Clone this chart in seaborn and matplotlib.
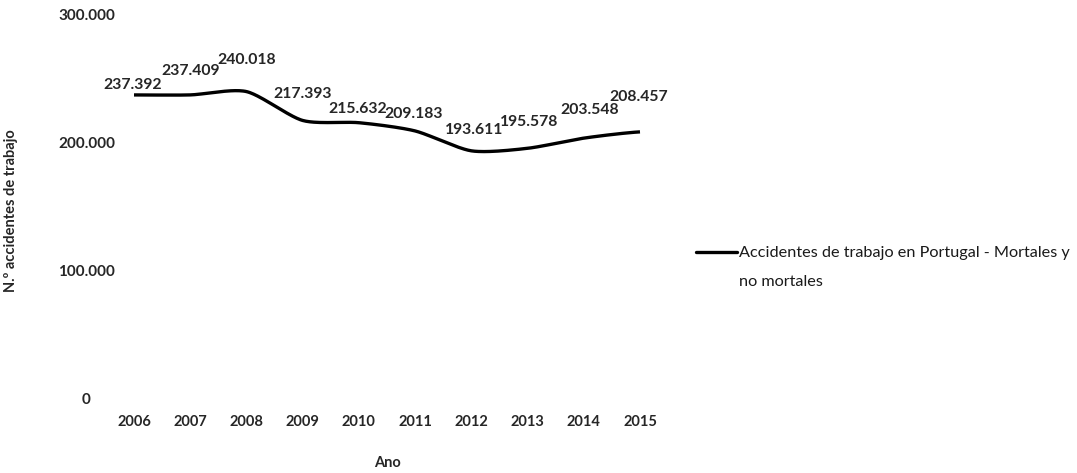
import numpy as np
import pandas as pd
import seaborn as sns
import matplotlib
matplotlib.use("Agg")
import matplotlib.pyplot as plt
from matplotlib.lines import Line2D

years = [2006, 2007, 2008, 2009, 2010, 2011, 2012, 2013, 2014, 2015]
accidents = [237392, 237409, 240018, 217393, 215632, 209183, 193611, 195578, 203548, 208457]
y_ticks = [0, 100000, 200000, 300000]
y_tick_labels = ["0", "100.000", "200.000", "300.000"]
series_name_lines = ["Accidentes de trabajo en Portugal - Mortales y", "no mortales"]

# label offsets in points (dx, dy) from each data point
label_offsets = [(-1, 7), (0, 17), (0, 23), (0, 19), (-1, 10), (-1, 12),
                 (2, 15), (1, 19), (4, 20), (-1, 25)]

sns.set_theme(style="white")
plt.rcParams["font.family"] = ["Lato", "DejaVu Sans"]


def smooth_curve(x, y, steps=40):
    """Catmull-Rom style spline through the points for a smoothed line."""
    x = np.asarray(x, float)
    y = np.asarray(y, float)
    px = np.concatenate([[2 * x[0] - x[1]], x, [2 * x[-1] - x[-2]]])
    py = np.concatenate([[y[0]], y, [y[-1]]])
    xs, ys = [], []
    t = np.linspace(0, 1, steps, endpoint=False)
    for i in range(1, len(px) - 2):
        p0, p1, p2, p3 = (np.array([px[j], py[j]]) for j in range(i - 1, i + 3))
        m1 = (p2 - p0) / 2
        m2 = (p3 - p1) / 2
        h00 = 2 * t**3 - 3 * t**2 + 1
        h10 = t**3 - 2 * t**2 + t
        h01 = -2 * t**3 + 3 * t**2
        h11 = t**3 - t**2
        pts = (h00[:, None] * p1 + h10[:, None] * m1 * 0.75 +
               h01[:, None] * p2 + h11[:, None] * m2 * 0.75)
        xs.extend(pts[:, 0])
        ys.extend(pts[:, 1])
    xs.append(x[-1])
    ys.append(y[-1])
    return np.array(xs), np.array(ys)


sx, sy = smooth_curve(years, accidents)
curve = pd.DataFrame({"Ano": sx, "valor": sy})

W, H = 1077, 473
fig = plt.figure(figsize=(W / 100, H / 100), dpi=100)
ax = fig.add_axes([105.9 / W, 1 - 398 / H, (668.1 - 105.9) / W, (398 - 15) / H])

sns.lineplot(data=curve, x="Ano", y="valor", ax=ax, color="black",
             linewidth=2.4, sort=False, estimator=None)
for line in ax.lines:
    line.set_clip_on(False)
    line.set_solid_capstyle("butt")

ax.set_xlim(2005.5, 2015.5)
ax.set_ylim(0, 300000)
for s in ax.spines.values():
    s.set_visible(False)
ax.grid(False)

ax.set_xticks(years)
ax.set_xticklabels([str(y) for y in years], fontsize=10.5, fontweight="bold")
ax.set_yticks(y_ticks)
ax.set_yticklabels(y_tick_labels, fontsize=11, fontweight="bold")
for lab in ax.get_yticklabels():
    lab.set_horizontalalignment("center")
ax.tick_params(axis="y", length=0, pad=14)
ax.tick_params(axis="x", length=0, pad=12)

ax.set_xlabel("Ano", fontsize=10.5, fontweight="bold", labelpad=20)
ax.set_ylabel("N.º accidentes de trabajo", fontsize=10.5, fontweight="bold")
ax.yaxis.set_label_coords(-0.156, 0.49)

for x, v, (dx, dy) in zip(years, accidents, label_offsets):
    txt = f"{v:,}".replace(",", ".")
    ax.annotate(txt, (x, v), xytext=(dx, dy), textcoords="offset points",
                ha="center", va="center", fontsize=11.3, fontweight="bold")

# legend: the series name wraps onto a second row, the key sits on the first
handles = [Line2D([], [], color="black", linewidth=2.4),
           Line2D([], [], linestyle="none")]
leg = fig.legend(handles, series_name_lines, loc="upper left",
                 bbox_to_anchor=(696 / W, 1 - 246 / H), frameon=False,
                 fontsize=11.7, handlelength=2.55, handletextpad=0.1,
                 labelspacing=0.9, borderaxespad=0, borderpad=0)
for t in leg.get_texts():
    t.set_color("#1a1a1a")

fig.savefig("out.png", dpi=100)
